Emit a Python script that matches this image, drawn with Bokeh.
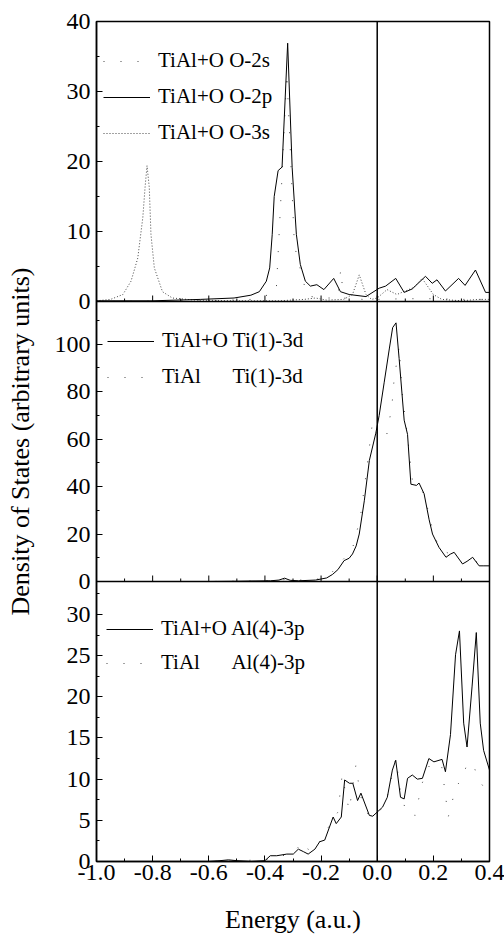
from bokeh.plotting import figure
from bokeh.models import Range1d, FixedTicker, Span, Legend, LegendItem, CustomJSTickFormatter
from bokeh.core.properties import value
from bokeh.embed import file_html
from bokeh.resources import INLINE

# ---------------- data ----------------
# top panel: O partial DOS in TiAl+O
o2p_x = [-1.0, -0.8, -0.63, -0.51, -0.45, -0.42, -0.395, -0.383, -0.374, -0.367, -0.353, -0.339,
         -0.319, -0.303, -0.288, -0.274, -0.256, -0.238, -0.215, -0.19, -0.155, -0.131, -0.1,
         -0.04, 0.007, 0.03, 0.066, 0.096, 0.125, 0.172, 0.196, 0.213, 0.243, 0.29, 0.313,
         0.35, 0.386, 0.4]
o2p_y = [0.1, 0.1, 0.3, 0.5, 0.9, 1.4, 2.9, 4.8, 9.6, 15.0, 18.7, 19.2,
         36.9, 19.1, 9.6, 5.3, 2.9, 2.2, 2.4, 1.7, 3.3, 1.4, 1.0,
         0.7, 1.9, 2.2, 3.3, 1.3, 1.8, 3.6, 2.6, 3.1, 1.5, 3.3, 2.3,
         4.5, 1.3, 1.3]

o3s_x = [-1.0, -0.95, -0.906, -0.877, -0.853, -0.835, -0.827, -0.82, -0.812, -0.806, -0.794,
         -0.765, -0.73, -0.65, -0.5, -0.35, -0.26, -0.22, -0.18, -0.12, -0.088, -0.064, -0.04,
         -0.02, 0.0, 0.035, 0.07, 0.1, 0.13, 0.16, 0.2, 0.23, 0.3, 0.36, 0.4]
o3s_y = [0.1, 0.3, 1.0, 2.9, 6.2, 12.0, 16.3, 19.4, 16.3, 9.6, 4.8,
         1.4, 0.5, 0.2, 0.1, 0.1, 0.3, 0.5, 0.2, 0.3, 1.0, 3.8, 1.0,
         0.3, 0.5, 1.7, 1.0, 1.5, 2.0, 3.3, 1.0, 0.3, 0.1, 0.3, 0.3]

o2s_x = [-1.0, -0.6, -0.45, -0.4, -0.36, -0.339, -0.33, -0.322, -0.31, -0.295, -0.25, -0.2,
         -0.14, -0.13, -0.12, -0.05, 0.0, 0.1, 0.2, 0.3, 0.4]
o2s_y = [0.0, 0.1, 0.3, 0.8, 1.3, 18.0, 26.0, 32.6, 22.0, 8.0, 0.8, 0.5,
         0.5, 4.6, 0.5, 0.3, 0.3, 0.4, 0.4, 0.3, 0.3]

# middle panel: Ti(1)-3d
ti_o_x = [-1.0, -0.8, -0.6, -0.5, -0.45, -0.38, -0.35, -0.33, -0.31, -0.28, -0.22, -0.18,
          -0.159, -0.14, -0.118, -0.1, -0.088, -0.075, -0.064, -0.046, -0.028, -0.005, 0.007,
          0.025, 0.043, 0.055, 0.067, 0.078, 0.096, 0.108, 0.12, 0.14, 0.149, 0.167, 0.185,
          0.197, 0.22, 0.245, 0.26, 0.274, 0.304, 0.32, 0.34, 0.363, 0.38, 0.4]
ti_o_y = [0.0, 0.0, 0.0, 0.1, 0.2, 0.3, 0.6, 1.4, 0.5, 0.3, 0.6, 1.5,
          3.0, 5.0, 8.8, 9.8, 11.6, 15.0, 20.0, 34.0, 51.0, 62.5, 70.0,
          84.0, 98.0, 107.0, 109.0, 94.0, 68.0, 62.0, 41.0, 40.5, 41.5, 37.0, 26.0,
          20.0, 14.4, 10.2, 11.5, 12.3, 7.4, 8.5, 10.2, 6.6, 6.6, 6.6]

ti_x = [-1.0, -0.6, -0.45, -0.35, -0.32, -0.3, -0.22, -0.18, -0.16, -0.12, -0.09, -0.06,
        -0.04, -0.017, 0.0, 0.031, 0.052, 0.06, 0.078, 0.09, 0.108, 0.125, 0.15, 0.17, 0.19,
        0.22, 0.26, 0.3, 0.34, 0.37, 0.4]
ti_y = [0.0, 0.0, 0.2, 0.5, 1.0, 0.5, 0.8, 2.0, 4.0, 9.5, 13.0, 27.0,
        45.0, 67.0, 62.0, 60.0, 73.5, 85.0, 99.0, 78.0, 61.0, 43.0, 40.0, 36.0, 25.0,
        14.0, 11.5, 8.0, 9.5, 7.0, 6.5]

# bottom panel: Al(4)-3p
al_o_x = [-1.0, -0.8, -0.6, -0.56, -0.53, -0.5, -0.45, -0.4, -0.381, -0.358, -0.322, -0.299,
          -0.281, -0.263, -0.246, -0.222, -0.205, -0.187, -0.157, -0.146, -0.128, -0.116,
          -0.099, -0.087, -0.07, -0.058, -0.028, -0.016, 0.0, 0.019, 0.036, 0.054, 0.066,
          0.083, 0.096, 0.108, 0.125, 0.143, 0.161, 0.184, 0.202, 0.231, 0.243, 0.261, 0.279,
          0.293, 0.308, 0.32, 0.338, 0.353, 0.367, 0.379, 0.4]
al_o_y = [0.0, 0.0, 0.0, 0.1, 0.2, 0.1, 0.0, 0.1, 0.7, 0.7, 0.9, 0.9,
          1.5, 1.2, 0.9, 1.5, 2.4, 2.6, 5.4, 4.6, 5.4, 9.9,
          9.5, 9.5, 7.4, 8.3, 5.6, 5.5, 6.0, 6.6, 7.8, 11.1, 12.3,
          7.8, 7.6, 10.1, 10.5, 10.0, 10.1, 12.5, 12.1, 12.4, 10.9, 15.4, 25.1,
          28.0, 16.8, 13.9, 21.3, 27.8, 16.8, 13.5, 11.1]

al_x = [-1.0, -0.6, -0.5, -0.4, -0.35, -0.3, -0.265, -0.24, -0.2, -0.16, -0.14, -0.125,
        -0.1, -0.076, -0.06, -0.03, 0.0, 0.03, 0.066, 0.085, 0.106, 0.135, 0.16, 0.19, 0.23,
        0.253, 0.28, 0.3, 0.318, 0.34, 0.36, 0.38, 0.4]
al_y = [0.0, 0.0, 0.1, 0.2, 0.6, 1.0, 2.4, 1.2, 2.6, 5.0, 6.0, 10.5,
        6.2, 11.7, 8.0, 5.5, 5.8, 7.0, 12.5, 8.0, 5.8, 5.6, 9.5, 12.0, 11.5,
        5.4, 9.0, 10.0, 11.6, 12.0, 10.0, 9.0, 8.5]

# axes
x_ticks = [-1.0, -0.8, -0.6, -0.4, -0.2, 0.0, 0.2, 0.4]
x_minor = [-0.9, -0.7, -0.5, -0.3, -0.1, 0.1, 0.3]

top_max, mid_max, bot_max = 40.0, 118.0, 34.0
top_ticks = [0, 10, 20, 30, 40]
top_minor = [5, 15, 25, 35]
mid_ticks = [0, 20, 40, 60, 80, 100]
mid_minor = [10, 30, 50, 70, 90, 110]
bot_ticks = [0, 5, 10, 15, 20, 25, 30]
bot_minor = [2.5, 7.5, 12.5, 17.5, 22.5, 27.5, 32.5]

# ---------------- layout ----------------
FONT = "Liberation Serif"
W, H = 504, 936
LEFT, RIGHT, TOP, BOTTOM = 96, 15, 21, 75
frame_h = H - TOP - BOTTOM
panel_px = frame_h / 3.0

p = figure(width=W, height=H, output_backend="svg", toolbar_location=None,
           x_range=Range1d(-1.0, 0.4), y_range=Range1d(0, 3),
           min_border_left=LEFT, min_border_right=RIGHT,
           min_border_top=TOP, min_border_bottom=BOTTOM)
p.grid.visible = False
p.outline_line_color = "black"
p.outline_line_width = 1.5
p.background_fill_color = "white"


def prange(k, m):
    # panel k (0 = bottom) occupies [k, k+1] of the main range 0..3
    return Range1d(-k * m, (3 - k) * m)


p.extra_y_ranges = {"top": prange(2, top_max), "mid": prange(1, mid_max), "bot": prange(0, bot_max)}

# left axis: one axis, ticks mapped from each panel
pos_major, pos_minor = [], []
for k, m, tks, mins in [(2, top_max, top_ticks, top_minor),
                        (1, mid_max, mid_ticks, mid_minor),
                        (0, bot_max, bot_ticks, bot_minor)]:
    pos_major += [k + v / m for v in tks]
    pos_minor += [k + v / m for v in mins]

ya = p.yaxis[0]
ya.ticker = FixedTicker(ticks=pos_major, minor_ticks=pos_minor)
ya.formatter = CustomJSTickFormatter(args=dict(m=[bot_max, mid_max, top_max]), code="""
    const k = Math.min(2, Math.floor(tick + 1e-9));
    return String(Math.round((tick - k) * m[k]));
""")
ya.axis_label = "Density of States (arbitrary units)"

xa = p.xaxis[0]
xa.ticker = FixedTicker(ticks=x_ticks, minor_ticks=x_minor)
xa.formatter = CustomJSTickFormatter(code="return tick.toFixed(1);")
xa.axis_label = "Energy (a.u.)"

for ax in (xa, ya):
    ax.axis_line_color = "black"
    ax.axis_line_width = 1.5
    ax.major_tick_in = 6
    ax.major_tick_out = 0
    ax.minor_tick_in = 3
    ax.minor_tick_out = 0
    ax.major_tick_line_color = "black"
    ax.minor_tick_line_color = "black"
    ax.major_label_text_font = FONT
    ax.major_label_text_font_size = "24px"
    ax.major_label_text_color = "black"
    ax.major_label_text_line_height = 1.0
    ax.axis_label_text_font = FONT
    ax.axis_label_text_font_size = "26px"
    ax.axis_label_text_font_style = "normal"
    ax.axis_label_text_color = "black"
    ax.axis_label_text_line_height = 1.0
xa.major_label_standoff = 3
xa.axis_label_standoff = 22
ya.major_label_standoff = 6
ya.axis_label_standoff = 17

# panel separators, Fermi level line
for b in (1, 2):
    p.add_layout(Span(location=b, dimension="width", line_color="black", line_width=1.5))
p.add_layout(Span(location=0.0, dimension="height", line_color="black", line_width=1.5))

# inner x ticks on the lower edge of the top and middle panels
for b in (1, 2):
    p.segment(x0=x_ticks, y0=[b] * len(x_ticks), x1=x_ticks,
              y1=[b + 6 / panel_px] * len(x_ticks), line_color="black", line_width=1)
    p.segment(x0=x_minor, y0=[b] * len(x_minor), x1=x_minor,
              y1=[b + 3 / panel_px] * len(x_minor), line_color="black", line_width=1)

SPARSE = "1 16"
DOTTED = "1 2"
GREY = "#444444"

r_o2s = p.line(o2s_x, o2s_y, y_range_name="top", line_color=GREY, line_width=1, line_dash=SPARSE)
r_o3s = p.line(o3s_x, o3s_y, y_range_name="top", line_color=GREY, line_width=1, line_dash=DOTTED)
r_o2p = p.line(o2p_x, o2p_y, y_range_name="top", line_color="black", line_width=1)

r_ti = p.line(ti_x, ti_y, y_range_name="mid", line_color=GREY, line_width=1, line_dash=SPARSE)
r_ti_o = p.line(ti_o_x, ti_o_y, y_range_name="mid", line_color="black", line_width=1)

r_al = p.line(al_x, al_y, y_range_name="bot", line_color=GREY, line_width=1, line_dash=SPARSE)
r_al_o = p.line(al_o_x, al_o_y, y_range_name="bot", line_color="black", line_width=1)

NB = "\u00a0" * 6


def make_legend(items, loc, spacing=11):
    leg = Legend(items=[LegendItem(label=value(t), renderers=[r]) for t, r in items],
                 location=loc, border_line_color=None, background_fill_alpha=0,
                 padding=0, margin=0, spacing=spacing, glyph_width=47, glyph_height=24,
                 label_height=24, label_standoff=8,
                 label_text_font=FONT, label_text_font_size="21px", label_text_color="black")
    p.add_layout(leg)


make_legend([("TiAl+O O-2s", r_o2s), ("TiAl+O O-2p", r_o2p), ("TiAl+O O-3s", r_o3s)], (7, 716))
make_legend([("TiAl+O Ti(1)-3d", r_ti_o), ("TiAl" + NB + "Ti(1)-3d", r_ti)], (11, 472))
make_legend([("TiAl+O Al(4)-3p", r_al_o), ("TiAl" + NB + "Al(4)-3p", r_al)], (10, 186), spacing=9)

open("out.html", "w").write(file_html(p, INLINE))
